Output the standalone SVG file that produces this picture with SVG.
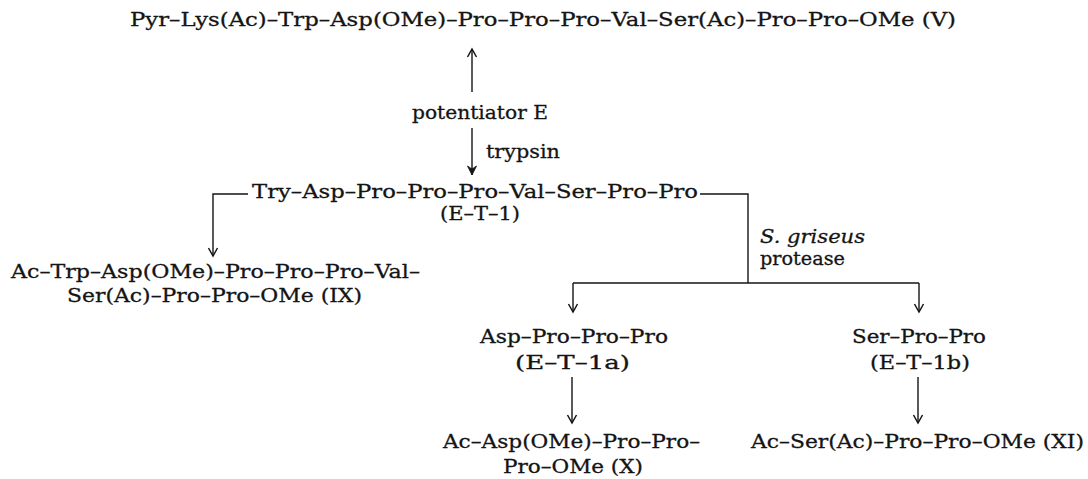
<svg xmlns="http://www.w3.org/2000/svg" width="1088" height="479" viewBox="0 0 1088 479">
  <style>
    text { font-family: "DejaVu Serif", "Liberation Serif", serif; font-size: 19px; fill: #141414; stroke: #141414; stroke-width: 0.3; }
    .it { font-style: italic; }
    .ln { fill: none; stroke: #141414; stroke-width: 1.4; }
  </style>
  <defs>
    <!-- open chevron head, pointing along +x of the line -->
    <marker id="head" viewBox="-10 -6 12 12" refX="0" refY="0" markerWidth="12" markerHeight="12" markerUnits="userSpaceOnUse" orient="auto">
      <path d="M-8,-4.5 L0,0 L-8,4.5" fill="none" stroke="#141414" stroke-width="1.5"/>
    </marker>
    <!-- solid head -->
    <marker id="headSolid" viewBox="-10 -6 12 12" refX="0" refY="0" markerWidth="12" markerHeight="12" markerUnits="userSpaceOnUse" orient="auto">
      <path d="M-9,-4.5 L0,0 L-9,4.5 L-6,0 Z" fill="#141414" stroke="#141414" stroke-width="0.8"/>
    </marker>
  </defs>
  <rect width="1088" height="479" fill="#ffffff"/>

  <g id="peptide-V">
    <text x="130" y="26" textLength="826" lengthAdjust="spacingAndGlyphs">Pyr–Lys(Ac)–Trp–Asp(OMe)–Pro–Pro–Pro–Val–Ser(Ac)–Pro–Pro–OMe (V)</text>
  </g>
  <g id="potentiator-E">
    <text x="412" y="119" textLength="136" lengthAdjust="spacingAndGlyphs">potentiator E</text>
  </g>
  <g id="label-trypsin">
    <text x="486" y="158" textLength="74" lengthAdjust="spacingAndGlyphs">trypsin</text>
  </g>
  <g id="E-T-1">
    <text x="252" y="198" textLength="446" lengthAdjust="spacingAndGlyphs">Try–Asp–Pro–Pro–Pro–Val–Ser–Pro–Pro</text>
    <text x="440" y="220" textLength="80" lengthAdjust="spacingAndGlyphs">(E–T–1)</text>
  </g>
  <g id="label-protease">
    <text class="it" x="760" y="243" textLength="105" lengthAdjust="spacingAndGlyphs">S. griseus</text>
    <text x="760" y="265" textLength="85" lengthAdjust="spacingAndGlyphs">protease</text>
  </g>
  <g id="peptide-IX">
    <text x="11" y="278" textLength="409" lengthAdjust="spacingAndGlyphs">Ac–Trp–Asp(OMe)–Pro–Pro–Pro–Val–</text>
    <text x="67" y="302" textLength="295" lengthAdjust="spacingAndGlyphs">Ser(Ac)–Pro–Pro–OMe (IX)</text>
  </g>
  <g id="E-T-1a">
    <text x="480" y="343" textLength="188" lengthAdjust="spacingAndGlyphs">Asp–Pro–Pro–Pro</text>
    <text x="515" y="369" textLength="115" lengthAdjust="spacingAndGlyphs">(E–T–1a)</text>
  </g>
  <g id="E-T-1b">
    <text x="852" y="343" textLength="134" lengthAdjust="spacingAndGlyphs">Ser–Pro–Pro</text>
    <text x="870" y="369" textLength="100" lengthAdjust="spacingAndGlyphs">(E–T–1b)</text>
  </g>
  <g id="peptide-X">
    <text x="443" y="448" textLength="257" lengthAdjust="spacingAndGlyphs">Ac–Asp(OMe)–Pro–Pro–</text>
    <text x="503" y="473" textLength="140" lengthAdjust="spacingAndGlyphs">Pro–OMe (X)</text>
  </g>
  <g id="peptide-XI">
    <text x="751" y="448" textLength="333" lengthAdjust="spacingAndGlyphs">Ac–Ser(Ac)–Pro–Pro–OMe (XI)</text>
  </g>

  <g id="connectors">
    <line class="ln" x1="472" y1="92" x2="472" y2="49" marker-end="url(#head)"/>
    <line class="ln" x1="472" y1="128" x2="472" y2="175" marker-end="url(#headSolid)"/>
    <polyline class="ln" points="248,194 213,194 213,256" marker-end="url(#head)"/>
    <polyline class="ln" points="700,194 748,194 748,283"/>
    <line class="ln" x1="573" y1="283" x2="919" y2="283"/>
    <line class="ln" x1="573" y1="283" x2="573" y2="312" marker-end="url(#head)"/>
    <line class="ln" x1="919" y1="283" x2="919" y2="312" marker-end="url(#head)"/>
    <line class="ln" x1="572" y1="377" x2="572" y2="423" marker-end="url(#head)"/>
    <line class="ln" x1="918" y1="377" x2="918" y2="423" marker-end="url(#head)"/>
  </g>
</svg>
